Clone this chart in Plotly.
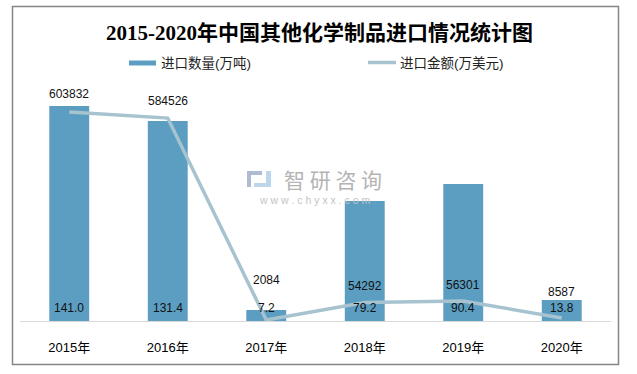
import plotly.graph_objects as go

# ---------------- data ----------------
years = ["2015年", "2016年", "2017年", "2018年", "2019年", "2020年"]
# bar heights as drawn in the picture (scaled to the 2015 label)
qty_bar = [603832, 561700, 30900, 337000, 384800, 59000]
qty_labels = ["603832", "584526", "2084", "54292", "56301", "8587"]
# line heights as drawn in the picture (scaled to the 2015 label)
value_line = [141.0, 136.9, 0.7, 12.4, 13.5, 2.0]
value_labels = ["141.0", "131.4", "7.2", "79.2", "90.4", "13.8"]

title_text = "2015-2020年中国其他化学制品进口情况统计图"
name_qty = "进口数量(万吨)"
name_val = "进口金额(万美元)"

# ---------------- layout helpers ----------------
W, H = 637, 374
L, R, T, B = 20, 611, 80, 321          # plot area in pixels
PW, PH = R - L, B - T

def px(x):
    return (x - L) / PW

def py(y):
    return (B - y) / PH

BAR_C = "#5B9EC1"
LINE_C = "#A7C3D0"
FONT = "Liberation Sans, Noto Sans CJK SC, sans-serif"

fig = go.Figure()
fig.add_trace(go.Bar(x=years, y=qty_bar, name=name_qty, marker=dict(color=BAR_C, line=dict(width=0)),
                     width=0.405, showlegend=False, hoverinfo="skip"))
fig.add_trace(go.Scatter(x=years, y=value_line, name=name_val, yaxis="y2", mode="lines",
                         line=dict(color=LINE_C, width=3.5), showlegend=False, hoverinfo="skip"))

ann = []
# quantity labels (pixel y centres from the picture)
qty_label_py = [94, 101, 280, 286, 285, 292]
for i, (yr, t) in enumerate(zip(years, qty_labels)):
    ann.append(dict(x=yr, xref="x", y=py(qty_label_py[i]), yref="paper", text=t, showarrow=False,
                    font=dict(family=FONT, size=12, color="#111"), xanchor="center", yanchor="middle"))
# value labels
for i, (yr, t) in enumerate(zip(years, value_labels)):
    ann.append(dict(x=yr, xref="x", y=py(308), yref="paper", text=t, showarrow=False,
                    font=dict(family=FONT, size=12, color="#111"), xanchor="center", yanchor="middle"))

# title
ann.append(dict(x=px(319), y=py(33), xref="paper", yref="paper", text="<b>" + title_text + "</b>",
                showarrow=False, xanchor="center", yanchor="middle",
                font=dict(family="Liberation Serif, Noto Sans CJK SC, serif", size=21, color="#000")))
# legend texts
ann.append(dict(x=px(159), y=py(63), xref="paper", yref="paper", text=name_qty, showarrow=False,
                xanchor="left", yanchor="middle", font=dict(family=FONT, size=13.5, color="#222")))
ann.append(dict(x=px(398), y=py(63), xref="paper", yref="paper", text=name_val, showarrow=False,
                xanchor="left", yanchor="middle", font=dict(family=FONT, size=13.5, color="#222")))
# watermark
ann.append(dict(x=px(333), y=py(178.5), xref="paper", yref="paper", text="智 研 咨 询", showarrow=False,
                xanchor="center", yanchor="middle",
                font=dict(family="Noto Sans CJK SC", size=21, color="#B4B4B4")))
ann.append(dict(x=px(315), y=py(199.5), xref="paper", yref="paper", text="w w w . c h y x x . c o m",
                showarrow=False, xanchor="center", yanchor="middle",
                font=dict(family=FONT, size=10.5, color="#C4C4C4")))

shapes = [
    # outer frame
    dict(type="rect", xref="paper", yref="paper", x0=px(12.5), x1=px(618.5), y0=py(6.5), y1=py(364.5),
         line=dict(color="#858585", width=1.5), fillcolor="rgba(0,0,0,0)", layer="below"),
    # legend swatches
    dict(type="rect", xref="paper", yref="paper", x0=px(129), x1=px(156), y0=py(60.5), y1=py(65.5),
         line=dict(width=0), fillcolor=BAR_C),
    dict(type="line", xref="paper", yref="paper", x0=px(368), x1=px(396), y0=py(62.5), y1=py(62.5),
         line=dict(color=LINE_C, width=3.5)),
    # watermark logo (approximate)
    dict(type="rect", xref="paper", yref="paper", x0=px(247), x1=px(251), y0=py(171), y1=py(187),
         line=dict(width=0), fillcolor="#AEBBD0", layer="below"),
    dict(type="rect", xref="paper", yref="paper", x0=px(247), x1=px(262), y0=py(171), y1=py(175),
         line=dict(width=0), fillcolor="#AEBBD0", layer="below"),
    dict(type="rect", xref="paper", yref="paper", x0=px(266), x1=px(271), y0=py(171), y1=py(187),
         line=dict(width=0), fillcolor="#BCD6EC", layer="below"),
    dict(type="rect", xref="paper", yref="paper", x0=px(254), x1=px(271), y0=py(183), y1=py(187),
         line=dict(width=0), fillcolor="#BCD6EC", layer="below"),
]

fig.update_layout(
    width=W, height=H,
    margin=dict(l=L, r=W - R, t=T, b=H - B, pad=0),
    paper_bgcolor="white", plot_bgcolor="white",
    showlegend=False,
    bargap=0.6,
    hovermode=False,
    xaxis=dict(type="category", range=[-0.5, 5.5], showgrid=False, zeroline=False,
               showline=True, linecolor="#D9D9D9", linewidth=1, ticks="", ticklabelstandoff=14,
               tickfont=dict(family=FONT, size=13, color="#000")),
    yaxis=dict(range=[0, 603832 * PH / 215], visible=False, showgrid=False, zeroline=False),
    yaxis2=dict(range=[0, 141.0 * PH / 209], overlaying="y", visible=False, showgrid=False,
                zeroline=False),
    annotations=ann,
    shapes=shapes,
)

fig.write_html("out.html", config={"displayModeBar": False},
               post_script=["document.body.style.margin='0px';document.body.style.overflow='hidden';"])
